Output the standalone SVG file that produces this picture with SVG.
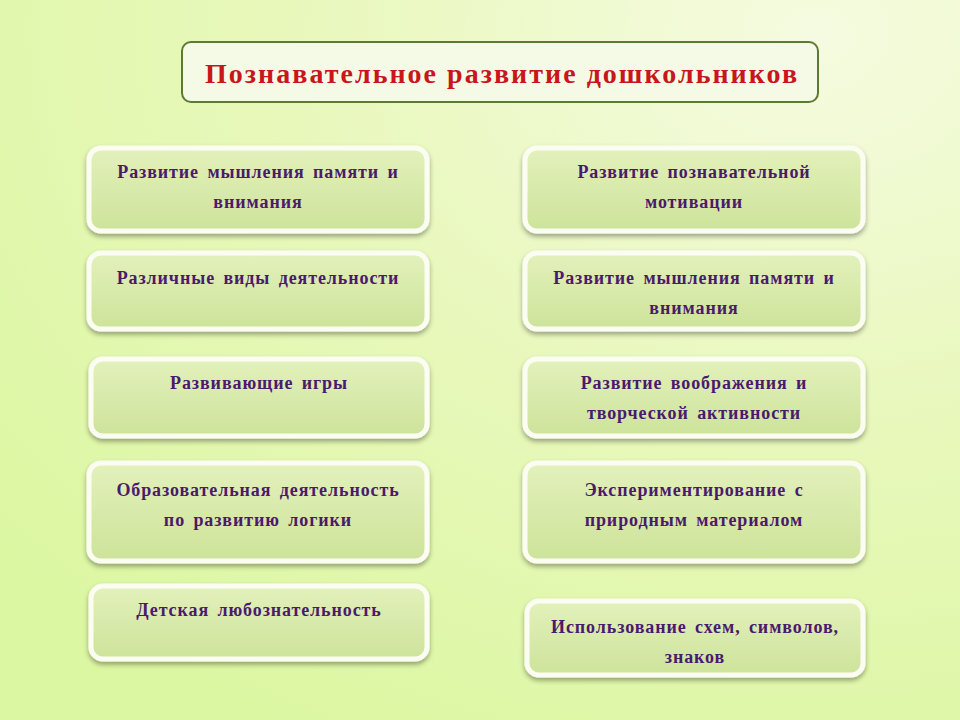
<svg xmlns="http://www.w3.org/2000/svg" width="960" height="720" viewBox="0 0 960 720">
<defs>
<radialGradient id="bg" cx="0.85" cy="0.05" r="1.1">
<stop offset="0" stop-color="#f5fbe0"/><stop offset="0.5" stop-color="#e8f8bb"/><stop offset="1" stop-color="#dcf7a2"/>
</radialGradient>
<linearGradient id="bx" x1="0" y1="0" x2="0" y2="1">
<stop offset="0" stop-color="#e3f1bb"/><stop offset="1" stop-color="#cde39a"/>
</linearGradient>
<filter id="sh" x="-10%" y="-10%" width="120%" height="130%"><feDropShadow dx="0" dy="3" stdDeviation="2.5" flood-color="#000" flood-opacity="0.35"/></filter>
</defs>
<style>
.b{fill:url(#bx);stroke:#fbfdf3;stroke-width:5;filter:url(#sh)}
.t{font-family:"Liberation Serif",serif;font-weight:bold;font-size:18px;letter-spacing:0.9px;word-spacing:3px;fill:#4a1a6c;text-anchor:middle}
</style>
<rect width="960" height="720" fill="url(#bg)"/>
<g id="title">
<rect x="182" y="42" width="636" height="60" rx="9" fill="#f5fae6" stroke="#5d7a33" stroke-width="2"/>
<text x="205" y="83" textLength="592" lengthAdjust="spacing" style="font-family:'Liberation Serif',serif;font-weight:bold;font-size:28px;fill:#c8161b">Познавательное развитие дошкольников</text>
</g>
<g id="l1"><rect class="b" x="89" y="148" width="338" height="83" rx="12"/><text class="t" x="258" y="178">Развитие мышления памяти и</text><text class="t" x="258" y="208">внимания</text></g>
<g id="l2"><rect class="b" x="89" y="253" width="338" height="76" rx="12"/><text class="t" x="258" y="284">Различные виды деятельности</text></g>
<g id="l3"><rect class="b" x="91" y="359" width="336" height="77" rx="12"/><text class="t" x="259" y="389">Развивающие игры</text></g>
<g id="l4"><rect class="b" x="89" y="463" width="338" height="98" rx="12"/><text class="t" x="258" y="496">Образовательная деятельность</text><text class="t" x="258" y="526">по развитию  логики</text></g>
<g id="l5"><rect class="b" x="91" y="586" width="336" height="73" rx="12"/><text class="t" x="259" y="616">Детская любознательность</text></g>
<g id="r1"><rect class="b" x="525" y="148" width="338" height="83" rx="12"/><text class="t" x="694" y="178">Развитие познавательной</text><text class="t" x="694" y="208">мотивации</text></g>
<g id="r2"><rect class="b" x="525" y="253" width="338" height="76" rx="12"/><text class="t" x="694" y="284">Развитие мышления памяти и</text><text class="t" x="694" y="314">внимания</text></g>
<g id="r3"><rect class="b" x="525" y="359" width="338" height="77" rx="12"/><text class="t" x="694" y="389">Развитие воображения и</text><text class="t" x="694" y="419">творческой активности</text></g>
<g id="r4"><rect class="b" x="525" y="463" width="338" height="98" rx="12"/><text class="t" x="694" y="496">Экспериментирование  с</text><text class="t" x="694" y="526">природным материалом</text></g>
<g id="r5"><rect class="b" x="527" y="601" width="336" height="74" rx="12"/><text class="t" x="695" y="633">Использование схем, символов,</text><text class="t" x="695" y="663">знаков</text></g>
<g id="connectors"/>
</svg>
